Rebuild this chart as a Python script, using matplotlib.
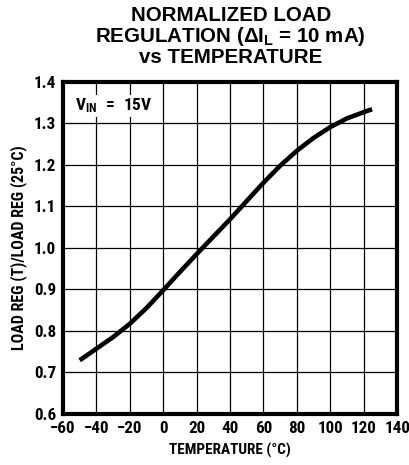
import matplotlib
matplotlib.use("Agg")
import matplotlib.pyplot as plt
from matplotlib import font_manager

# curve
temps = [-50, -40, -30, -20, -10, 0, 10, 20, 30, 40, 50, 60, 70, 80, 90, 100, 110, 120, 125]
load_reg = [0.729, 0.757, 0.785, 0.817, 0.855, 0.898, 0.942, 0.985, 1.027, 1.069, 1.113, 1.157, 1.198, 1.234, 1.265, 1.291, 1.312, 1.327, 1.334]

x_ticks = [-60, -40, -20, 0, 20, 40, 60, 80, 100, 120, 140]
y_ticks = [0.6, 0.7, 0.8, 0.9, 1.0, 1.1, 1.2, 1.3, 1.4]

# pick a condensed face for the datasheet look
have = set(f.name for f in font_manager.fontManager.ttflist)
cands = ['Roboto Condensed', 'Archivo Narrow', 'PT Sans Narrow', 'Liberation Sans Narrow',
         'Barlow Condensed', 'Fira Sans Condensed', 'IBM Plex Sans Condensed',
         'Encode Sans Condensed', 'Asap Condensed', 'Pragati Narrow', 'Open Sans Condensed']
cond = next((c for c in cands if c in have), 'DejaVu Sans')
narrow = [cond, 'DejaVu Sans']
title_font = 'Liberation Sans' if 'Liberation Sans' in have else 'DejaVu Sans'

plt.rcParams['mathtext.fontset'] = 'custom'
plt.rcParams['mathtext.rm'] = title_font + ':bold'
plt.rcParams['mathtext.sf'] = cond + ':bold'

fig = plt.figure(figsize=(4.09, 4.65), dpi=100)
ax = fig.add_axes([0.154, 0.110, 0.817, 0.714])

ax.plot(temps, load_reg, color='black', lw=3.3, solid_capstyle='butt', solid_joinstyle='round')

ax.set_xlim(-60, 140)
ax.set_ylim(0.6, 1.4)
ax.set_xticks(x_ticks)
ax.set_yticks(y_ticks)
ax.set_yticklabels([f"{v:.1f}" for v in y_ticks])
ax.grid(True, color='black', lw=0.9)
ax.tick_params(length=0, pad=5)
for lab in ax.get_xticklabels() + ax.get_yticklabels():
    lab.set_family(narrow)
    lab.set_fontweight('bold')
    lab.set_fontsize(12.3)
for s in ax.spines.values():
    s.set_linewidth(3)

ax.set_xlabel('TEMPERATURE (°C)', family=narrow, fontweight='bold', fontsize=11, labelpad=5)
ax.set_ylabel('LOAD REG (T)/LOAD REG (25°C)', family=narrow, fontweight='bold', fontsize=11.5, labelpad=5)

ax.text(0.035, 0.955, r'$\mathsf{V_{IN}\ =\ 15V}$', transform=ax.transAxes,
        ha='left', va='top', fontsize=12.5,
        bbox=dict(facecolor='white', edgecolor='none', pad=1))

fig.text(0.564, 0.988, 'NORMALIZED LOAD\nREGULATION (Δ$\\mathrm{I_L}$ = 10 mA)\nvs TEMPERATURE',
         ha='center', va='top', family=title_font, fontweight='bold',
         fontsize=14.8, linespacing=1.0)

fig.savefig('out.png', dpi=100)
